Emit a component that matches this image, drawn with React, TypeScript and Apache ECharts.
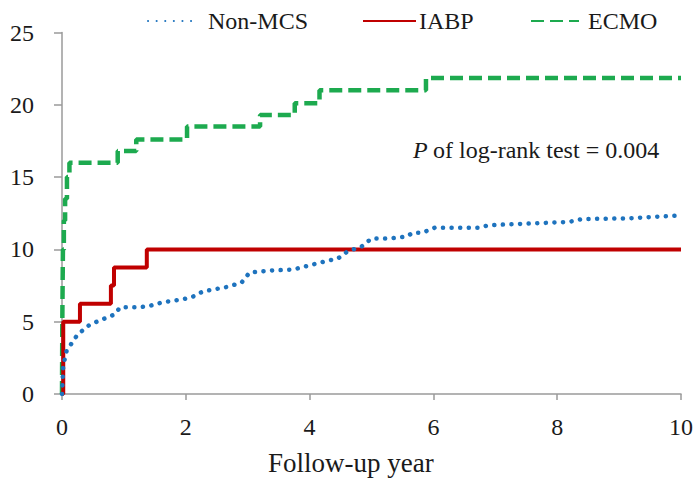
import React, { useEffect, useRef } from "react";
import * as echarts from "echarts";

const seriesNames = ["Non-MCS", "IABP", "ECMO"];
const xTickStep = 2;
const xMax = 10;
const yTickStep = 5;
const yMax = 25;

// Non-MCS: dense KM curve, read as a polyline
const nonMcsTimes = [0, 0.02, 0.075, 0.25, 0.45, 0.85, 0.94, 1.26, 1.42, 1.63, 1.95, 2.1, 2.28, 2.66, 2.9, 3.03, 3.4, 3.73, 4.0, 4.32, 4.45, 4.61, 4.84, 5.0, 5.29, 5.58, 5.66, 5.82, 6.02, 6.74, 6.87, 7.03, 7.34, 8.19, 8.4, 9.16, 10];
const nonMcsValues = [0, 1.95, 3.0, 4.1, 4.8, 5.5, 6.0, 6.0, 6.1, 6.35, 6.55, 6.7, 7.1, 7.4, 7.7, 8.4, 8.55, 8.6, 8.9, 9.25, 9.35, 9.85, 10.2, 10.75, 10.75, 10.9, 11.15, 11.15, 11.5, 11.5, 11.65, 11.7, 11.75, 11.9, 12.1, 12.15, 12.35];

// IABP: step events
const iabpTimes = [0.02, 0.29, 0.79, 0.84, 1.37];
const iabpValues = [5, 6.25, 7.5, 8.75, 10];

// ECMO: step events
const ecmoTimes = [0.005, 0.015, 0.03, 0.05, 0.08, 0.12, 0.9, 1.2, 2.02, 3.2, 3.76, 4.16, 5.88];
const ecmoValues = [5, 10, 12, 13.5, 15, 16, 16.8, 17.6, 18.5, 19.3, 20.1, 21.0, 21.85];

const followUpEnd = 10;
const pItalic = "P";
const pRest = "of log-rank test = 0.004";
const xTitle = "Follow-up year";

const FONT = "Liberation Serif";
const TEXT_COLOR = "#1a1a1a";

function stepPoints(times: number[], values: number[], end: number) {
  const pts: number[][] = [[0, 0]];
  let prev = 0;
  for (let i = 0; i < times.length; i++) {
    pts.push([times[i], prev]);
    pts.push([times[i], values[i]]);
    prev = values[i];
  }
  pts.push([end, prev]);
  return pts;
}

function zip(a: number[], b: number[]) {
  return a.map((v, i) => [v, b[i]]);
}

export default function App() {
  const ref = useRef<HTMLDivElement>(null);
  useEffect(() => {
    if (!ref.current) return;
    const chart = echarts.init(ref.current, undefined, { renderer: "svg" });
    const legendText = { fontSize: 24, fontFamily: FONT, color: TEXT_COLOR };
    const legendBase = {
      top: 9,
      padding: 0,
      itemHeight: 14,
      itemStyle: { opacity: 0, borderWidth: 0 },
    };
    chart.setOption({
      animation: false,
      backgroundColor: "#ffffff",
      textStyle: { fontFamily: FONT },
      grid: { left: 62, right: 14, top: 32.5, bottom: 86, containLabel: false },
      legend: [
        { ...legendBase, data: [seriesNames[0]], left: 147, itemWidth: 50, textStyle: { ...legendText, padding: [0, 0, 0, 5] } },
        { ...legendBase, data: [seriesNames[1]], left: 362, itemWidth: 53, textStyle: { ...legendText, padding: [0, 0, 0, -2] } },
        { ...legendBase, data: [seriesNames[2]], left: 530, itemWidth: 48, textStyle: { ...legendText, padding: [0, 0, 0, 4] } },
      ],
      xAxis: {
        type: "value",
        min: 0,
        max: xMax,
        interval: xTickStep,
        axisLine: { show: true, lineStyle: { color: "#9a9a9a", width: 1.5 } },
        axisTick: { show: true, length: 6, lineStyle: { color: "#9a9a9a", width: 1.5 } },
        splitLine: { show: false },
        axisLabel: { fontSize: 24, fontFamily: FONT, color: TEXT_COLOR, margin: 21 },
      },
      yAxis: {
        type: "value",
        min: 0,
        max: yMax,
        interval: yTickStep,
        axisLine: { show: true, lineStyle: { color: "#9a9a9a", width: 1.5 } },
        axisTick: { show: true, length: 8, lineStyle: { color: "#9a9a9a", width: 1.5 } },
        splitLine: { show: false },
        axisLabel: { fontSize: 24, fontFamily: FONT, color: TEXT_COLOR, margin: 28 },
      },
      series: [
        {
          name: seriesNames[0],
          type: "line",
          data: zip(nonMcsTimes, nonMcsValues),
          showSymbol: false,
          symbol: "none",
          z: 4,
          itemStyle: { color: "#1E73BE" },
          lineStyle: { color: "#1E73BE", width: 4.5, type: [0.1, 8.5], cap: "round" },
        },
        {
          name: seriesNames[1],
          type: "line",
          data: stepPoints(iabpTimes, iabpValues, followUpEnd),
          showSymbol: false,
          symbol: "none",
          z: 3,
          itemStyle: { color: "#C00000" },
          lineStyle: { color: "#C00000", width: 4 },
        },
        {
          name: seriesNames[2],
          type: "line",
          data: stepPoints(ecmoTimes, ecmoValues, followUpEnd),
          showSymbol: false,
          symbol: "none",
          z: 2,
          itemStyle: { color: "#1DAA4F" },
          lineStyle: { color: "#1DAA4F", width: 4.5, type: [13, 6] },
        },
      ],
      graphic: [
        {
          type: "text",
          left: 413,
          top: 138,
          style: { text: pItalic, font: `italic 24px ${FONT}`, fill: TEXT_COLOR },
        },
        {
          type: "text",
          left: 433,
          top: 138,
          style: { text: pRest, font: `24px ${FONT}`, fill: TEXT_COLOR },
        },
        {
          type: "text",
          left: 268,
          top: 449,
          style: { text: xTitle, font: `27px ${FONT}`, fill: TEXT_COLOR },
        },
      ],
    });
    return () => chart.dispose();
  }, []);
  return (
    <div
      ref={ref}
      style={{ position: "fixed", left: 0, top: 0, width: 696, height: 480, background: "#fff" }}
    />
  );
}
